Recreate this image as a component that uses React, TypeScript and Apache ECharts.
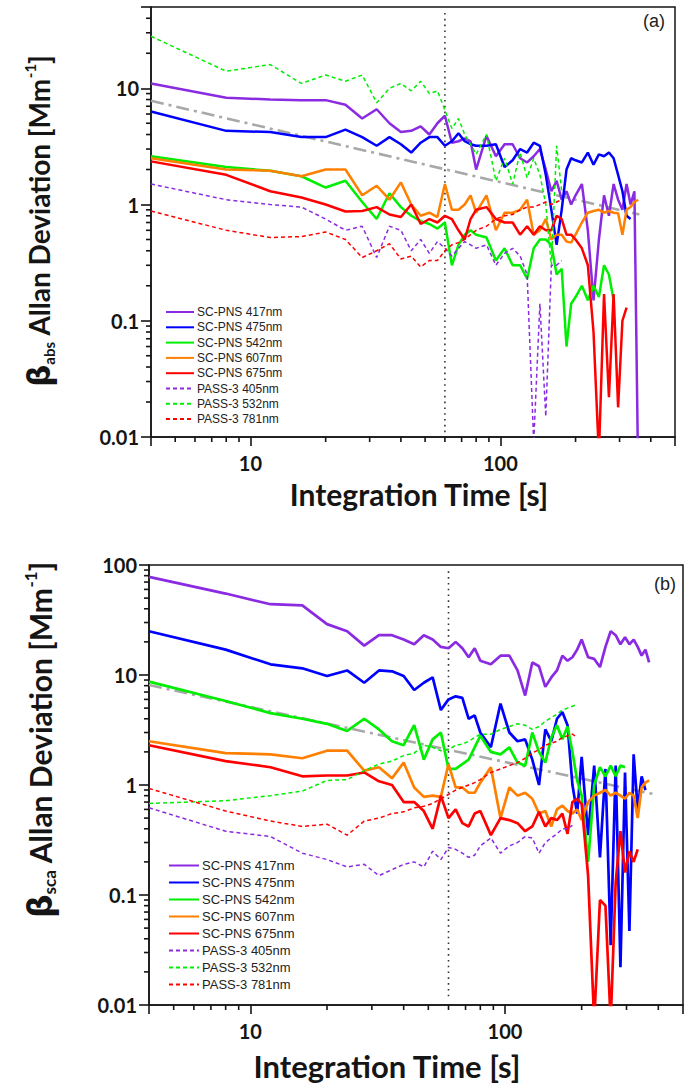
import React, { useEffect, useRef } from 'react';
import * as echarts from 'echarts';

// Integration times (s)
const TAU = [4, 8, 12, 16, 20, 24, 28, 32, 36, 40, 44, 48, 52, 56, 60, 64, 68, 72, 76, 80,
  88, 96, 104, 112, 120, 128, 136, 144, 152, 160, 168, 176, 184, 192, 200,
  212, 224, 236, 248, 260, 272, 284, 296, 308, 320, 332, 344, 356, 368, 380];

const NAMES = ['SC-PNS 417nm', 'SC-PNS 475nm', 'SC-PNS 542nm', 'SC-PNS 607nm', 'SC-PNS 675nm',
  'PASS-3 405nm', 'PASS-3 532nm', 'PASS-3 781nm'];

// ---- panel (a): absorption ----
const A_SC417 = [11, 8.3, 8.0, 7.9, 7.9, 7.2, 5.5, 6.6, 5.0, 4.2, 4.3, 4.7, 4.0, 5.0, 5.8, 3.4, 3.5, 3.7, 3.5, 2.0,
  3.9, 2.6, 3.3, 3.3, 2.5, 2.3, 2.6, 3.0, 2.0, 1.3, 1.6, 1.1, 1.3, 1.0, 1.2,
  1.5, 0.6, 0.15, 0.5, 1.2, 0.8, 1.5, 1.1, 0.9, 1.5, 1.0, 1.3, 0.005];
const A_SC475 = [6.3, 4.3, 4.2, 3.8, 3.8, 4.4, 3.8, 3.2, 3.8, 3.3, 2.8, 3.4, 3.8, 3.8, 3.2, 3.5, 4.1, 3.5, 3.3, 3.2,
  3.2, 3.3, 2.1, 2.4, 3.0, 2.8, 3.4, 3.2, 1.8, 0.9, 0.45, 0.9, 2.0, 2.5, 2.4,
  2.3, 2.8, 2.2, 2.7, 2.6, 2.8, 2.5, 1.8, 1.3, 0.8, 0.75];
const A_SC542 = [2.6, 2.1, 1.95, 1.75, 1.4, 1.6, 1.05, 0.75, 1.25, 0.95, 0.8, 0.72, 0.68, 0.62, 0.7, 0.3, 0.45, 0.55, 0.6, 0.55,
  0.52, 0.33, 0.42, 0.3, 0.3, 0.23, 0.42, 0.5, 0.5, 0.45, 0.25, 0.28, 0.06, 0.14, 0.16,
  0.2, 0.15, 0.2, 0.16, 0.3, 0.25, 0.15];
const A_SC607 = [2.5, 2.0, 1.95, 1.75, 2.0, 2.0, 1.2, 1.45, 1.1, 1.55, 1.0, 0.8, 0.85, 0.78, 1.5, 0.9, 0.9, 1.0, 1.2, 0.85,
  1.2, 0.6, 0.85, 0.85, 0.9, 1.1, 0.55, 0.6, 0.75, 0.5, 0.55, 0.55, 0.48, 0.47, 0.55,
  0.7, 0.85, 0.88, 0.9, 0.85, 0.88, 0.85, 0.84, 0.55, 0.9, 0.95, 1.05, 1.1];
const A_SC675 = [2.35, 1.8, 1.3, 1.15, 1.0, 0.87, 0.88, 0.95, 0.82, 0.78, 1.0, 0.68, 0.75, 0.7, 0.8, 0.75, 0.6, 0.5, 0.75, 0.9,
  0.95, 0.75, 0.7, 0.7, 0.55, 0.65, 0.55, 0.65, 0.6, 0.6, 0.8, 0.75, 0.55, 0.55, 0.5,
  0.42, 0.3, 0.08, 0.007, 0.17, 0.022, 0.17, 0.018, 0.1, 0.13];
const A_P405 = [1.5, 1.1, 1.0, 0.95, 0.75, 0.6, 0.65, 0.35, 0.65, 0.6, 0.4, 0.5, 0.38, 0.48, 0.42, 0.36, 0.42, 0.48, 0.45, 0.42,
  0.45, 0.3, 0.38, 0.42, 0.36, 0.25, 0.009, 0.14, 0.015, 0.3, 0.3, 0.33];
const A_P532 = [28, 14, 16, 11, 13, 11.5, 13, 7.5, 10, 11, 9.5, 11.5, 9, 9.5, 6.5, 4.5, 5.5, 4.0, 3.3, 2.7,
  4.0, 1.6, 2.5, 1.5, 2.8, 1.7, 2.5, 1.8, 1.0, 0.3, 3.2, 1.3];
const A_P781 = [0.88, 0.6, 0.52, 0.53, 0.58, 0.5, 0.35, 0.4, 0.46, 0.34, 0.36, 0.29, 0.33, 0.33, 0.4, 0.45, 0.47, 0.5, 0.55, 0.6,
  0.65, 0.75, 0.8, 0.82, 0.9, 0.95, 0.95, 1.0, 1.05, 1.0, 1.05, 1.1];
const A_FIT = [[4, 7.8], [360, 0.82]];

// ---- panel (b): scattering ----
const B_SC417 = [78, 55, 44, 43, 29, 25, 18.5, 23, 23, 21, 19, 23, 21, 18, 17.5, 20, 17.5, 14.5, 17.5, 13.5,
  12.5, 15, 15, 11, 6.5, 13, 12, 7.8, 9.5, 11, 15, 13.5, 14.5, 17, 21,
  14.5, 14, 11.8, 18, 25, 23, 19, 22, 19, 21, 18, 15, 17, 13];
const B_SC475 = [25, 17, 12.5, 11.5, 9.8, 11, 8.5, 11, 10.8, 9.8, 7.3, 8.5, 9.5, 4.8, 6.0, 6.4, 6.2, 4.0, 4.3, 3.0,
  2.2, 5.5, 3.0, 2.5, 2.6, 1.7, 1.0, 3.2, 2.5, 4.0, 4.6, 3.5, 1.0, 0.55, 1.8,
  0.35, 1.5, 0.22, 1.4, 0.035, 1.5, 0.022, 1.3, 0.047, 1.9, 0.6, 1.2, 0.9];
const B_SC542 = [8.7, 5.8, 4.5, 4.0, 3.6, 3.1, 4.0, 3.2, 2.5, 2.3, 3.5, 1.7, 2.6, 3.0, 1.4, 1.4, 1.55, 1.7, 2.2, 2.8,
  2.0, 1.9, 2.2, 1.6, 1.5, 3.0, 2.0, 1.6, 2.7, 3.5, 2.6, 3.4, 2.0, 1.1, 0.8,
  0.2, 1.0, 1.45, 1.2, 1.5, 1.2, 1.5, 1.45];
const B_SC607 = [2.5, 1.95, 1.9, 1.75, 2.05, 2.05, 1.35, 1.45, 1.15, 1.6, 0.95, 0.78, 0.8, 0.78, 1.55, 0.95, 0.95, 0.85, 0.85, 1.05,
  1.45, 0.5, 0.95, 0.8, 0.85, 0.75, 0.55, 0.58, 0.42, 0.6, 0.65, 0.58, 0.55, 0.6, 0.48,
  0.7, 0.8, 0.85, 0.9, 0.8, 0.85, 0.8, 0.75, 0.85, 0.8, 0.5, 0.95, 1.05, 1.1];
const B_SC675 = [2.3, 1.65, 1.45, 1.2, 1.22, 1.22, 1.3, 1.08, 1.0, 0.7, 0.7, 0.58, 0.4, 0.8, 0.5, 0.6, 0.45, 0.42, 0.55, 0.58,
  0.35, 0.5, 0.48, 0.45, 0.38, 0.42, 0.57, 0.42, 0.5, 0.48, 0.55, 0.36, 0.7, 0.75, 0.67,
  0.15, 0.007, 0.09, 0.08, 0.007, 0.13, 0.38, 0.16, 0.25, 0.2, 0.26];
const B_P405 = [0.62, 0.38, 0.34, 0.24, 0.21, 0.18, 0.19, 0.15, 0.17, 0.19, 0.2, 0.18, 0.25, 0.21, 0.27, 0.26, 0.24, 0.22, 0.23, 0.28,
  0.33, 0.24, 0.28, 0.3, 0.34, 0.33, 0.24, 0.3, 0.33, 0.36, 0.4, 0.4, 0.43];
const B_P532 = [0.68, 0.72, 0.8, 0.88, 1.1, 1.12, 1.35, 1.55, 1.65, 1.85, 1.95, 2.3, 2.2, 2.05, 2.1, 2.3, 2.35, 2.5, 2.7, 2.9,
  2.9, 3.2, 3.4, 3.6, 3.5, 3.2, 3.4, 3.8, 4.1, 4.4, 4.8, 5.0, 5.2, 5.4];
const B_P781 = [0.93, 0.58, 0.47, 0.42, 0.44, 0.35, 0.47, 0.5, 0.55, 0.57, 0.62, 0.64, 0.68, 0.75, 0.82, 0.9, 0.95, 1.0, 1.05, 1.12,
  1.3, 1.4, 1.5, 1.6, 1.75, 1.95, 2.1, 2.3, 2.4, 2.5, 2.7, 2.8, 2.9, 2.7];
const B_FIT = [[4, 8.1], [380, 0.83]];

const TAU_MARK = 60;
const MARK_A = [0.011, 45];
const MARK_B = [0.012, 88];

// axes
const X_RANGE = [4, 500];
const Y_RANGE_A = [0.01, 50];
const Y_RANGE_B = [0.01, 100];
const X_MAJOR = [10, 100];
const X_MAJOR_LABELS = ['10', '100'];
const X_MINOR = [5, 6, 7, 8, 9, 20, 30, 40, 50, 60, 70, 80, 90, 200, 300, 400];
const Y_MAJOR_A = [0.01, 0.1, 1, 10];
const Y_MAJOR_LABELS_A = ['0.01', '0.1', '1', '10'];
const Y_MINOR_A = [0.02, 0.03, 0.04, 0.05, 0.06, 0.07, 0.08, 0.09, 0.2, 0.3, 0.4, 0.5, 0.6, 0.7, 0.8, 0.9,
  2, 3, 4, 5, 6, 7, 8, 9, 20, 30, 40];
const Y_MAJOR_B = [0.01, 0.1, 1, 10, 100];
const Y_MAJOR_LABELS_B = ['0.01', '0.1', '1', '10', '100'];
const Y_MINOR_B = [0.02, 0.03, 0.04, 0.05, 0.06, 0.07, 0.08, 0.09, 0.2, 0.3, 0.4, 0.5, 0.6, 0.7, 0.8, 0.9,
  2, 3, 4, 5, 6, 7, 8, 9, 20, 30, 40, 50, 60, 70, 80, 90];

const COLORS = ['#8A2BE2', '#0000FF', '#00EE00', '#FF8000', '#FF0000', '#8A2BE2', '#00EE00', '#FF0000'];
const DASHED = [false, false, false, false, false, true, true, true];

const FONT = 'Lato, "Liberation Sans", sans-serif';
const INK = '#151515';
const lg = (v: number) => Math.log10(v);
const MAJOR_LEN = 9;
const MINOR_LEN = 5;

function pairs(vals: number[]) {
  return vals.map((v, i) => [TAU[i], v]);
}

const PANELS = [
  {
    left: 151, right: 11, top: 7, height: 430, yRange: Y_RANGE_A, yMajor: Y_MAJOR_A, yLabels: Y_MAJOR_LABELS_A, yMinor: Y_MINOR_A,
    fit: A_FIT, mark: MARK_A, solidWidth: 2.5,
    data: [A_SC417, A_SC475, A_SC542, A_SC607, A_SC675, A_P405, A_P532, A_P781],
    legendLeft: 160, legendTop: 301, legendRow: 12, legendGap: 3.3, legendFont: 12, legendIcon: 28,
  },
  {
    left: 149, right: 3, top: 565, height: 440, yRange: Y_RANGE_B, yMajor: Y_MAJOR_B, yLabels: Y_MAJOR_LABELS_B, yMinor: Y_MINOR_B,
    fit: B_FIT, mark: MARK_B, solidWidth: 2.7,
    data: [B_SC417, B_SC475, B_SC542, B_SC607, B_SC675, B_P405, B_P532, B_P781],
    legendLeft: 163, legendTop: 854, legendRow: 13, legendGap: 4, legendFont: 13, legendIcon: 30,
  },
];

const lblFmt = (majors: number[], labels: string[]) => (v: number) => {
  const i = majors.findIndex(m => Math.abs(lg(m) - lg(v)) < 1e-6);
  return i >= 0 ? labels[i] : '';
};

function buildPanel(p: number, cfg: any) {
  const grid = { left: cfg.left, right: cfg.right, top: cfg.top, height: cfg.height, show: true, borderColor: INK, borderWidth: 1.5 };
  const axisLabelStyle = { fontSize: 20, fontWeight: 'bold', fontFamily: FONT, color: INK };
  const xAxis = {
    type: 'log', gridIndex: p, min: X_RANGE[0], max: X_RANGE[1], logBase: 10,
    axisLine: { show: true, onZero: false, lineStyle: { color: INK, width: 1.5 } },
    axisTick: { show: true, length: MAJOR_LEN, lineStyle: { color: INK, width: 1.6 } },
    axisLabel: { show: true, margin: 16, formatter: lblFmt(X_MAJOR, X_MAJOR_LABELS), ...axisLabelStyle },
    splitLine: { show: false },
  };
  const yAxis = {
    type: 'log', gridIndex: p, min: cfg.yRange[0], max: cfg.yRange[1], logBase: 10,
    axisLine: { show: true, onZero: false, lineStyle: { color: INK, width: 1.5 } },
    axisTick: { show: true, length: MAJOR_LEN + 1, lineStyle: { color: INK, width: 1.6 } },
    axisLabel: { show: true, margin: 12, formatter: lblFmt(cfg.yMajor, cfg.yLabels), ...axisLabelStyle },
    splitLine: { show: false },
  };
  const series: any[] = [
    {
      type: 'line', name: 'fit' + p, xAxisIndex: p, yAxisIndex: p, data: cfg.fit,
      symbol: 'none', showSymbol: false, silent: true, z: 1,
      lineStyle: { color: '#A8A8A8', width: 2.6, type: [13, 5, 3, 5] },
    },
    {
      type: 'line', name: 'mark' + p, xAxisIndex: p, yAxisIndex: p,
      data: [[TAU_MARK, cfg.mark[0]], [TAU_MARK, cfg.mark[1]]],
      symbol: 'none', showSymbol: false, silent: true, z: 1,
      lineStyle: { color: '#333', width: 1.6, type: [1.6, 4.2] },
    },
  ];
  cfg.data.forEach((vals: number[], i: number) => {
    series.push({
      type: 'line', name: NAMES[i], xAxisIndex: p, yAxisIndex: p, data: pairs(vals),
      symbol: 'none', showSymbol: false, silent: true, z: 2,
      itemStyle: { color: COLORS[i] },
      lineStyle: { color: COLORS[i], width: DASHED[i] ? 1.5 : cfg.solidWidth, type: DASHED[i] ? [4, 3] : 'solid' },
    });
  });
  const legend = {
    data: NAMES, orient: 'vertical', left: cfg.legendLeft, top: cfg.legendTop,
    itemWidth: cfg.legendIcon, itemHeight: cfg.legendRow, itemGap: cfg.legendGap, selectedMode: false,
    itemStyle: { opacity: 0 },
    textStyle: { fontSize: cfg.legendFont, lineHeight: cfg.legendRow, fontFamily: '"Liberation Sans", Arial, sans-serif', color: '#222', padding: [0, 0, 0, -2] },
  };
  return { grid, xAxis, yAxis, series, legend };
}

function yTitle(x: number, y: number, sub: string, size: number) {
  const sSize = Math.round(size * 0.55);
  return {
    type: 'text', x, y, rotation: Math.PI / 2,
    style: {
      text: `{g|β}{s|${sub}}{t| Allan Deviation [Mm}{p|-1}{t|]}`,
      align: 'center', verticalAlign: 'middle', fill: INK,
      rich: {
        g: { fontSize: size + 3, fontFamily: '"DejaVu Sans", sans-serif', fontWeight: 'bold', fill: INK, lineHeight: size + 6 },
        t: { fontSize: size, fontFamily: FONT, fontWeight: 'bold', fill: INK, lineHeight: size + 6 },
        s: { fontSize: sSize, fontFamily: FONT, fontWeight: 'bold', fill: INK, verticalAlign: 'bottom', lineHeight: sSize },
        p: { fontSize: sSize, fontFamily: FONT, fontWeight: 'bold', fill: INK, verticalAlign: 'top', lineHeight: sSize },
      },
    },
  };
}

function textGraphics() {
  return [
    { type: 'text', x: 419, y: 494, style: { text: 'Integration Time [s]', fontSize: 30, fontWeight: 'bold', fontFamily: FONT, fill: INK, align: 'center', verticalAlign: 'middle' } },
    { type: 'text', x: 387, y: 1066, style: { text: 'Integration Time [s]', fontSize: 31, fontWeight: 'bold', fontFamily: FONT, fill: INK, align: 'center', verticalAlign: 'middle' } },
    yTitle(39, 221, 'abs', 28),
    yTitle(40, 740, 'sca', 30),
    { type: 'text', x: 654, y: 21, style: { text: '(a)', fontSize: 18, fontFamily: '"Liberation Sans", Arial, sans-serif', fill: '#222', align: 'center', verticalAlign: 'middle' } },
    { type: 'text', x: 665, y: 584, style: { text: '(b)', fontSize: 18, fontFamily: '"Liberation Sans", Arial, sans-serif', fill: '#222', align: 'center', verticalAlign: 'middle' } },
  ];
}

function buildOption() {
  const a = buildPanel(0, PANELS[0]);
  const b = buildPanel(1, PANELS[1]);
  return {
    animation: false,
    grid: [a.grid, b.grid],
    xAxis: [a.xAxis, b.xAxis],
    yAxis: [a.yAxis, b.yAxis],
    series: [...a.series, ...b.series],
    legend: [a.legend, b.legend],
    graphic: [],
  };
}

// minor tick marks positioned through the chart's own log scales
function tickGraphics(chart: any) {
  const out: any[] = [];
  PANELS.forEach((cfg, p) => {
    const finder = { xAxisIndex: p, yAxisIndex: p };
    X_MINOR.forEach(v => {
      const pt = chart.convertToPixel(finder, [v, cfg.yRange[0]]);
      if (!pt) return;
      out.push({ type: 'line', z: 50, shape: { x1: pt[0], y1: pt[1], x2: pt[0], y2: pt[1] + MINOR_LEN }, style: { stroke: INK, lineWidth: 1.6 } });
    });
    cfg.yMinor.forEach((v: number) => {
      const pt = chart.convertToPixel(finder, [X_RANGE[0], v]);
      if (!pt) return;
      out.push({ type: 'line', z: 50, shape: { x1: pt[0] - MINOR_LEN, y1: pt[1], x2: pt[0], y2: pt[1] }, style: { stroke: INK, lineWidth: 1.6 } });
    });
  });
  return out;
}

export default function App() {
  const ref = useRef<HTMLDivElement>(null);
  useEffect(() => {
    const chart = echarts.init(ref.current!, null, { renderer: 'svg' });
    chart.setOption(buildOption() as any);
    let ticks: any[] = [];
    try { ticks = tickGraphics(chart); } catch (e) { ticks = []; }
    chart.setOption({ graphic: [...ticks, ...textGraphics()] } as any);
    return () => chart.dispose();
  }, []);
  return <div ref={ref} style={{ position: 'absolute', left: 0, top: 0, width: 686, height: 1085 }} />;
}
